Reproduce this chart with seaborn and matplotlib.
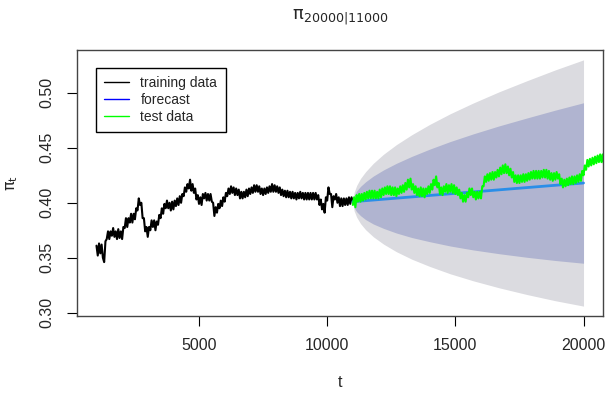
import numpy as np
import pandas as pd
import seaborn as sns
import matplotlib.pyplot as plt
from matplotlib.lines import Line2D

# training series (t = 1000 .. 11000, every 50)
train_t = list(range(1000, 11001, 50))
train_v = [0.361, 0.352, 0.363, 0.354, 0.362, 0.350, 0.346, 0.365, 0.367, 0.374,
           0.367, 0.374, 0.370, 0.377, 0.369, 0.374, 0.367, 0.376, 0.368, 0.374,
           0.367, 0.378, 0.377, 0.386, 0.378, 0.386, 0.382, 0.390, 0.382, 0.390,
           0.385, 0.395, 0.393, 0.404, 0.398, 0.400, 0.386, 0.386, 0.374, 0.378,
           0.369, 0.378, 0.375, 0.384, 0.378, 0.384, 0.375, 0.383, 0.380, 0.389,
           0.386, 0.395, 0.390, 0.399, 0.395, 0.402, 0.395, 0.400, 0.393, 0.401,
           0.394, 0.402, 0.397, 0.404, 0.398, 0.406, 0.400, 0.408, 0.406, 0.414,
           0.410, 0.417, 0.413, 0.421, 0.411, 0.417, 0.409, 0.413, 0.403, 0.407,
           0.399, 0.405, 0.398, 0.408, 0.404, 0.409, 0.402, 0.408, 0.402, 0.408,
           0.401, 0.400, 0.388, 0.396, 0.391, 0.399, 0.395, 0.402, 0.397, 0.405,
           0.401, 0.409, 0.406, 0.413, 0.408, 0.415, 0.409, 0.414, 0.407, 0.413,
           0.407, 0.412, 0.404, 0.410, 0.404, 0.410, 0.405, 0.412, 0.406, 0.413,
           0.408, 0.414, 0.409, 0.416, 0.410, 0.416, 0.410, 0.415, 0.408, 0.413,
           0.407, 0.413, 0.408, 0.414, 0.409, 0.415, 0.410, 0.417, 0.410, 0.416,
           0.410, 0.415, 0.409, 0.414, 0.407, 0.412, 0.406, 0.411, 0.405, 0.411,
           0.405, 0.410, 0.404, 0.410, 0.404, 0.409, 0.403, 0.409, 0.404, 0.410,
           0.404, 0.409, 0.403, 0.409, 0.403, 0.409, 0.403, 0.409, 0.403, 0.409,
           0.403, 0.409, 0.403, 0.407, 0.398, 0.403, 0.394, 0.399, 0.391, 0.405,
           0.402, 0.414, 0.408, 0.408, 0.396, 0.406, 0.403, 0.408, 0.400, 0.405,
           0.397, 0.404, 0.397, 0.404, 0.398, 0.404, 0.398, 0.405, 0.399, 0.405,
           0.401]

# test series (t = 11000 .. 20800, every 50)
test_t = list(range(11000, 20801, 50))
test_v = [0.398, 0.405, 0.396, 0.407, 0.401, 0.408, 0.401, 0.408, 0.402, 0.409,
          0.403, 0.410, 0.404, 0.411, 0.404, 0.411, 0.404, 0.411, 0.404, 0.410,
          0.404, 0.412, 0.405, 0.413, 0.407, 0.414, 0.408, 0.415, 0.408, 0.415,
          0.407, 0.414, 0.407, 0.414, 0.406, 0.413, 0.408, 0.415, 0.409, 0.416,
          0.410, 0.418, 0.412, 0.421, 0.414, 0.422, 0.412, 0.417, 0.409, 0.415,
          0.407, 0.413, 0.406, 0.414, 0.406, 0.413, 0.405, 0.413, 0.408, 0.415,
          0.409, 0.417, 0.412, 0.421, 0.416, 0.424, 0.414, 0.418, 0.408, 0.414,
          0.407, 0.415, 0.410, 0.417, 0.409, 0.416, 0.410, 0.417, 0.409, 0.416,
          0.408, 0.414, 0.407, 0.412, 0.404, 0.409, 0.401, 0.407, 0.401, 0.409,
          0.405, 0.413, 0.407, 0.413, 0.405, 0.410, 0.403, 0.410, 0.404, 0.410,
          0.404, 0.415, 0.415, 0.424, 0.419, 0.426, 0.420, 0.427, 0.421, 0.428,
          0.421, 0.428, 0.423, 0.430, 0.424, 0.432, 0.426, 0.434, 0.427, 0.435,
          0.427, 0.433, 0.425, 0.431, 0.423, 0.428, 0.419, 0.425, 0.418, 0.425,
          0.418, 0.425, 0.419, 0.426, 0.419, 0.426, 0.420, 0.427, 0.421, 0.428,
          0.422, 0.429, 0.422, 0.429, 0.422, 0.429, 0.422, 0.429, 0.423, 0.430,
          0.423, 0.430, 0.422, 0.429, 0.421, 0.427, 0.420, 0.427, 0.421, 0.428,
          0.422, 0.426, 0.417, 0.422, 0.414, 0.421, 0.415, 0.422, 0.416, 0.423,
          0.417, 0.424, 0.417, 0.424, 0.418, 0.425, 0.419, 0.426, 0.420, 0.429,
          0.425, 0.434, 0.430, 0.439, 0.433, 0.440, 0.434, 0.441, 0.435, 0.442,
          0.436, 0.443, 0.437, 0.444, 0.437, 0.444, 0.435]

# forecast mean
fc_t = [11000, 20000]
fc_v = [0.401, 0.418]

# prediction bands
band_t = [11000, 11050, 11150, 11300, 11500, 11800, 12200, 12700,
          13300, 14000, 14800, 15700, 16700, 17800, 18900, 20000]
outer_hi = [0.401, 0.4094, 0.4157, 0.4221, 0.4283, 0.4359, 0.4442, 0.4529,
            0.4619, 0.4713, 0.4810, 0.4908, 0.5009, 0.5111, 0.5209, 0.530]
outer_lo = [0.401, 0.3928, 0.3869, 0.3811, 0.3755, 0.3691, 0.3624, 0.3555,
            0.3487, 0.3421, 0.3354, 0.3290, 0.3227, 0.3165, 0.3109, 0.306]
inner_hi = [0.401, 0.4065, 0.4107, 0.4149, 0.4191, 0.4243, 0.4299, 0.4359,
            0.4422, 0.4488, 0.4557, 0.4627, 0.4699, 0.4772, 0.4843, 0.491]
inner_lo = [0.401, 0.3957, 0.3919, 0.3883, 0.3847, 0.3807, 0.3767, 0.3725,
            0.3684, 0.3646, 0.3607, 0.3571, 0.3537, 0.3504, 0.3475, 0.345]

x_ticks = [5000, 10000, 15000, 20000]
y_ticks = [0.30, 0.35, 0.40, 0.45, 0.50]

sns.set_style('white')
plt.rcParams['font.family'] = ['Liberation Sans', 'DejaVu Sans']
plt.rcParams['mathtext.fontset'] = 'dejavusans'

train = pd.DataFrame({'t': train_t, 'v': train_v})
test = pd.DataFrame({'t': test_t, 'v': test_v})
fc = pd.DataFrame({'t': fc_t, 'v': fc_v})

fig = plt.figure(figsize=(6.06, 3.93), dpi=100)
ax = fig.add_axes([77 / 606, 1 - 316 / 393, 526 / 606, 266 / 393])

ax.fill_between(band_t, outer_lo, outer_hi, color='#dbdbe0', lw=0)
ax.fill_between(band_t, inner_lo, inner_hi, color='#b0b4d0', lw=0)

sns.lineplot(data=train, x='t', y='v', ax=ax, color='black', linewidth=1.5, estimator=None)
sns.lineplot(data=fc, x='t', y='v', ax=ax, color='#2a8ee8', linewidth=2, estimator=None)
sns.lineplot(data=test, x='t', y='v', ax=ax, color='#00ff00', linewidth=1.5, estimator=None)

ax.set_xlim(240, 20760)
ax.set_ylim(0.297, 0.539)
ax.set_xticks(x_ticks)
ax.set_yticks(y_ticks)
ax.set_xticklabels([str(x) for x in x_ticks])
ax.set_yticklabels(['%.2f' % y for y in y_ticks], rotation=90, va='center')
ax.tick_params(axis='both', direction='out', length=7, width=0.8, color='black',
               labelsize=11.5, pad=9, left=True, bottom=True)
for s in ax.spines.values():
    s.set_color('#444444')
    s.set_linewidth(1)

ax.set_xlabel('t', fontsize=11.5, labelpad=16)
ax.set_ylabel(r'$\mathrm{\pi_t}$', fontsize=11.5, labelpad=14)
ax.set_title(r'$\mathrm{\pi}_{20000|11000}$', fontsize=13, pad=22)

handles = [Line2D([], [], color='black', lw=1),
           Line2D([], [], color='blue', lw=1),
           Line2D([], [], color='#00ff00', lw=1)]
leg = ax.legend(handles, ['training data', 'forecast', 'test data'],
                loc='upper left', bbox_to_anchor=(96 / 606, 1 - 68 / 393),
                bbox_transform=fig.transFigure, borderaxespad=0, fontsize=10,
                handlelength=1.8, handletextpad=0.8, labelspacing=0.2,
                borderpad=0.6, fancybox=False, framealpha=1)
leg.get_frame().set_edgecolor('black')
leg.get_frame().set_linewidth(1)

fig.savefig('out.png', dpi=100)
